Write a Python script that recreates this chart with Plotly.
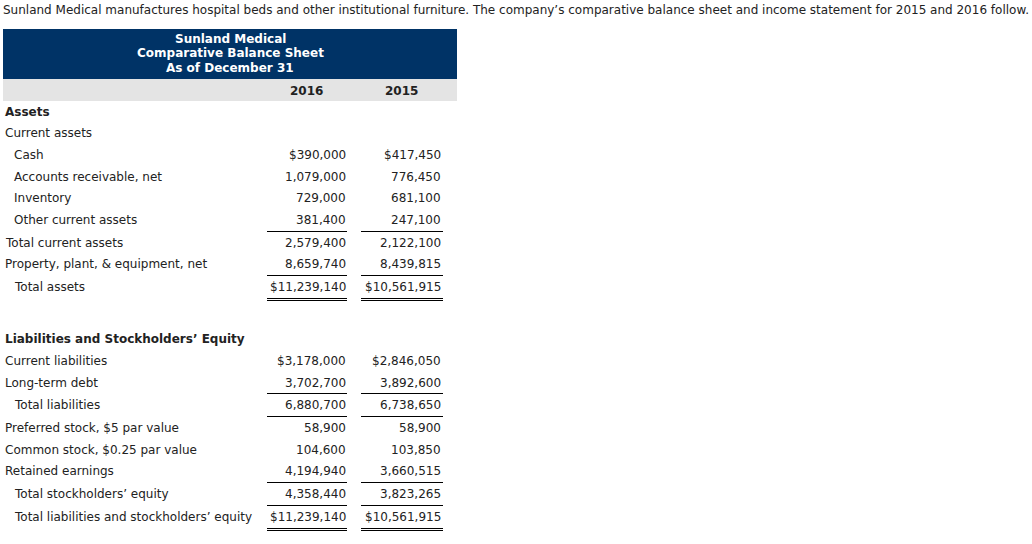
import math
import plotly.graph_objects as go

# ---------------- data ----------------
intro_text = ("Sunland Medical manufactures hospital beds and other institutional furniture. "
              "The company’s comparative balance sheet and income statement for 2015 and 2016 follow.")
title_lines = ["Sunland Medical", "Comparative Balance Sheet", "As of December 31"]
year_labels = ["2016", "2015"]

asset_header = "Assets"
asset_subheader = "Current assets"
asset_labels = ["Cash", "Accounts receivable, net", "Inventory", "Other current assets",
                "Total current assets", "Property, plant, & equipment, net", "Total assets"]
asset_2016 = [390000, 1079000, 729000, 381400, 2579400, 8659740, 11239140]
asset_2015 = [417450, 776450, 681100, 247100, 2122100, 8439815, 10561915]

liab_header = "Liabilities and Stockholders’ Equity"
liab_labels = ["Current liabilities", "Long-term debt", "Total liabilities",
               "Preferred stock, $5 par value", "Common stock, $0.25 par value",
               "Retained earnings", "Total stockholders’ equity",
               "Total liabilities and stockholders’ equity"]
liab_2016 = [3178000, 3702700, 6880700, 58900, 104600, 4194940, 4358440, 11239140]
liab_2015 = [2846050, 3892600, 6738650, 58900, 103850, 3660515, 3823265, 10561915]

# ---------------- styling / layout ----------------
W, H = 1032, 544
FONT = "DejaVu Sans, Verdana, sans-serif"
FS = 12
TXT = "#222222"
NAVY = "#003366"
GRAY = "#e4e4e4"
TEXT_DY = 0.8

asset_indent = [True, True, True, True, False, False, True]
asset_rule = [False, False, False, False, True, False, True]
asset_dollar = [True, False, False, False, False, False, True]
asset_double = [False, False, False, False, False, False, True]

liab_indent = [False, False, True, False, False, False, True, True]
liab_rule = [False, False, True, True, False, False, True, True]
liab_dollar = [True, False, False, False, False, False, False, True]
liab_double = [False, False, False, False, False, False, False, True]

X_LEFT, X_INDENT = 5, 14
COL_RIGHT = [346, 441]
COL_SPAN = [(267, 347), (361, 443)]
STEP, RULE_EXTRA = 21.7, 1.0

annotations = []
shapes = []


def text(x, y, s, anchor="left", bold=False, color=TXT, size=FS):
    annotations.append(dict(
        x=x, y=y + TEXT_DY, xref="x", yref="y", text=("<b>%s</b>" % s) if bold else s,
        showarrow=False, xanchor=anchor, yanchor="middle",
        font=dict(family=FONT, size=size, color=color), borderpad=0, borderwidth=0))


def hline(x0, x1, y):
    yc = math.floor(y) + 0.5  # crisp 1px line
    shapes.append(dict(type="line", xref="x", yref="y", x0=x0, x1=x1, y0=yc, y1=yc,
                       line=dict(color="#000000", width=1)))


def fmt(v, dollar):
    return ("$" if dollar else "") + f"{v:,}"


# intro
text(3, 9, intro_text)

# header box
shapes.append(dict(type="rect", xref="x", yref="y", x0=3, x1=457, y0=29, y1=79,
                   fillcolor=NAVY, line=dict(width=0), layer="below"))
shapes.append(dict(type="rect", xref="x", yref="y", x0=3, x1=457, y0=79, y1=101,
                   fillcolor=GRAY, line=dict(width=0), layer="below"))
for i, t in enumerate(title_lines):
    text(230, 38 + i * 14.5, t, anchor="center", bold=True, color="#ffffff")
for j, yl in enumerate(year_labels):
    text(COL_RIGHT[j] - 40, 90, yl, anchor="center", bold=True)


def section(start_y, header, sub, labels, v16, v15, indent, rule, dollar, double):
    rows = [("header", header)]
    if sub:
        rows.append(("sub", sub))
    n_pre = len(rows)
    rules_all = [False] * n_pre + rule
    ys = []
    y = start_y
    for i, r in enumerate(rules_all):
        if i > 0:
            y += STEP + (RULE_EXTRA if r else 0)
        ys.append(y)
    text(X_LEFT, ys[0], header, bold=True)
    if sub:
        text(X_LEFT, ys[1], sub)
    for k, lab in enumerate(labels):
        yk = ys[n_pre + k]
        text(X_INDENT if indent[k] else X_LEFT, yk, lab)
        for j, vals in enumerate((v16, v15)):
            text(COL_RIGHT[j], yk, fmt(vals[k], dollar[k]), anchor="right")
            x0, x1 = COL_SPAN[j]
            if rule[k]:
                hline(x0, x1, yk - 10.5)
            if double[k]:
                hline(x0, x1, yk + 12.7)
                hline(x0, x1, yk + 14.7)


section(110.7, asset_header, asset_subheader, asset_labels, asset_2016, asset_2015,
        asset_indent, asset_rule, asset_dollar, asset_double)
section(338.3, liab_header, None, liab_labels, liab_2016, liab_2015,
        liab_indent, liab_rule, liab_dollar, liab_double)

fig = go.Figure()
fig.update_layout(
    width=W, height=H, margin=dict(l=0, r=0, t=0, b=0),
    paper_bgcolor="white", plot_bgcolor="white",
    xaxis=dict(range=[0, W], visible=False, fixedrange=True),
    yaxis=dict(range=[H, 0], visible=False, fixedrange=True),
    annotations=annotations, shapes=shapes, showlegend=False,
)
fig.write_html("out.html", config={"displayModeBar": False},
               post_script="document.body.style.margin='0';")
